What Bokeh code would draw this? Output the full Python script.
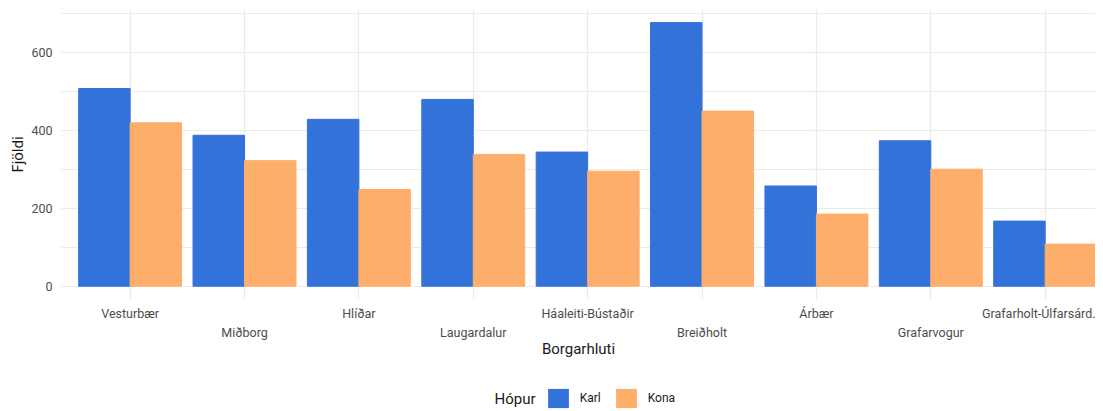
from bokeh.plotting import figure
from bokeh.layouts import column
from bokeh.models import (Range1d, LinearAxis, FixedTicker, Grid, Legend, LegendItem,
                          ColumnDataSource, Label)
from bokeh.embed import file_html
from bokeh.resources import INLINE
import numpy as np

# ---- data ----
categories = ["Vesturbær", "Miðborg", "Hlíðar", "Laugardalur", "Háaleiti-Bústaðir",
              "Breiðholt", "Árbær", "Grafarvogur", "Grafarholt-Úlfarsárd."]
karl = [507, 387, 428, 479, 344, 676, 257, 373, 167]
kona = [419, 322, 248, 338, 295, 449, 185, 300, 108]
groups = ["Karl", "Kona"]
legend_title = "Hópur"
colors = ["#3373d9", "#fdae6b"]
y_ticks = [0, 200, 400, 600]
y_minor = [100, 300, 500, 700]

FONT = "Roboto"
pos = np.arange(1, len(categories) + 1)
dodge = 0.225
bw = 0.45

src = ColumnDataSource(dict(x=pos, karl=karl, kona=kona,
                            xk=pos - dodge, xo=pos + dodge))

p = figure(frame_width=1034, frame_height=290, output_backend="svg", toolbar_location=None,
           x_range=Range1d(0.4, 9.44), y_range=Range1d(-34, 709.5),
           x_axis_location=None, y_axis_location=None,
           min_border_left=0, min_border_right=0, min_border_top=9, min_border_bottom=0)
p.margin = (0, 0, 0, 6)
p.outline_line_color = None
p.background_fill_color = "white"
p.border_fill_color = "white"

# grids
p.add_layout(Grid(dimension=0, ticker=FixedTicker(ticks=list(pos)),
                  grid_line_color="#ebebeb", grid_line_width=1.2))
p.add_layout(Grid(dimension=1, ticker=FixedTicker(ticks=y_ticks, minor_ticks=y_minor),
                  grid_line_color="#ebebeb", grid_line_width=1.2,
                  minor_grid_line_color="#ebebeb", minor_grid_line_width=1.2))

rk = p.vbar(x="xk", top="karl", bottom=0, width=bw, source=src,
            fill_color=colors[0], line_color=colors[0])
ro = p.vbar(x="xo", top="kona", bottom=0, width=bw, source=src,
            fill_color=colors[1], line_color=colors[1])

# y axis
ya = LinearAxis(ticker=FixedTicker(ticks=y_ticks), axis_label="Fjöldi")
ya.axis_line_color = None
ya.major_tick_line_color = None
ya.minor_tick_line_color = None
ya.major_tick_out = 0
ya.major_label_standoff = 9
ya.major_label_text_font = FONT
ya.major_label_text_font_size = "12.5px"
ya.major_label_text_color = "#4d4d4d"
ya.axis_label_text_font = FONT
ya.axis_label_text_font_size = "15px"
ya.axis_label_text_font_style = "normal"
ya.axis_label_text_color = "#1a1a1a"
ya.axis_label_standoff = 1
p.add_layout(ya, "left")

def make_xaxis(idx, standoff, label=None):
    ticks = [float(pos[i]) for i in idx]
    ax = LinearAxis(ticker=FixedTicker(ticks=ticks),
                    major_label_overrides={float(pos[i]): categories[i] for i in idx})
    ax.axis_line_color = None
    ax.major_tick_line_color = None
    ax.minor_tick_line_color = None
    ax.major_tick_out = 0
    ax.major_tick_in = 0
    ax.major_label_standoff = standoff
    ax.major_label_text_font = FONT
    ax.major_label_text_font_size = "12.5px"
    ax.major_label_text_color = "#4d4d4d"
    if label:
        ax.axis_label = label
        ax.axis_label_text_font = FONT
        ax.axis_label_text_font_size = "15px"
        ax.axis_label_text_font_style = "normal"
        ax.axis_label_text_color = "#1a1a1a"
        ax.axis_label_standoff = -3
    return ax

p.add_layout(make_xaxis([0, 2, 4, 6, 8], 6), "below")
p.add_layout(make_xaxis([1, 3, 5, 7], 1, "Borgarhluti"), "below")

# ---- legend strip ----
leg = figure(frame_width=1034, frame_height=50, output_backend="svg", toolbar_location=None,
             x_range=Range1d(0, 1), y_range=Range1d(0, 1),
             x_axis_location=None, y_axis_location=None,
             min_border_left=47, min_border_right=0, min_border_top=0, min_border_bottom=0)
leg.margin = (0, 0, 0, 6)
leg.outline_line_color = None
leg.xgrid.visible = False
leg.ygrid.visible = False
# swatch renderers: zero-size marks, only their legend glyphs show
lk = leg.vbar(x=[0.5], bottom=[0], top=[0], width=0, fill_color=colors[0],
              line_color=colors[0], line_alpha=0)
lo = leg.vbar(x=[0.5], bottom=[0], top=[0], width=0, fill_color=colors[1],
              line_color=colors[1], line_alpha=0)

legend = Legend(items=[LegendItem(label=groups[0], renderers=[lk]),
                       LegendItem(label=groups[1], renderers=[lo])],
                orientation="horizontal", location=(523, 0),
                label_text_font=FONT, label_text_font_size="12px",
                label_text_color="#1a1a1a",
                glyph_width=26, glyph_height=24, label_standoff=9, spacing=12,
                padding=0, margin=0, border_line_color=None,
                background_fill_alpha=0)
leg.add_layout(legend, "center")
leg.add_layout(Label(x=433, y=12, x_units="screen", y_units="screen", text=legend_title,
                     text_font=FONT, text_font_size="15px", text_color="#1a1a1a",
                     text_baseline="middle", text_align="left"))

open("out.html", "w").write(file_html(column(p, leg, spacing=0), INLINE))
